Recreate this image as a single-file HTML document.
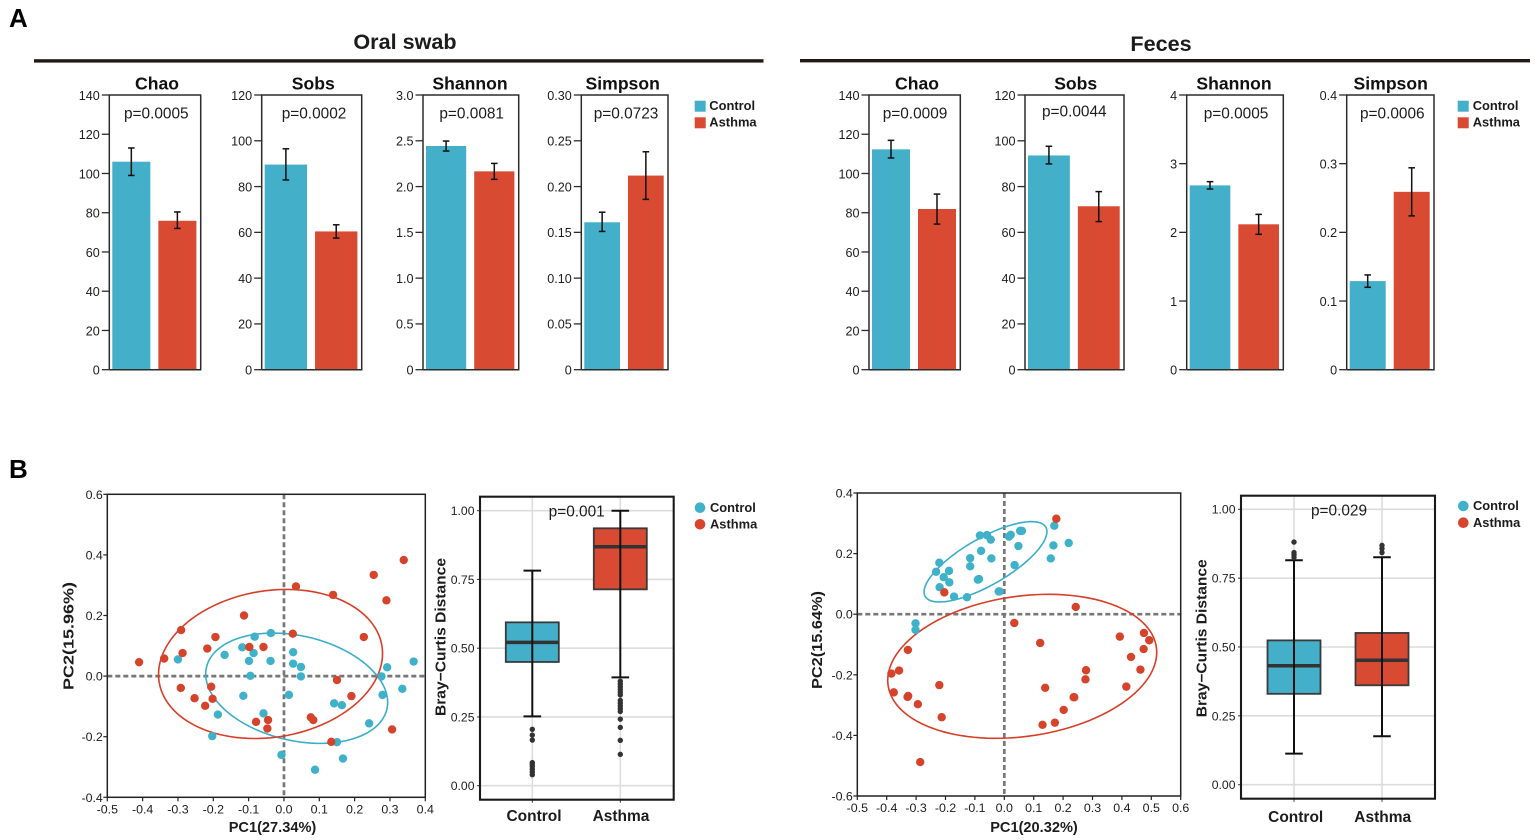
<!DOCTYPE html>
<html lang="en">
<head>
<meta charset="utf-8">
<title>Alpha and beta diversity: oral swab and feces</title>
<style>
html,body{margin:0;padding:0;background:#fff;}
svg{display:block;font-family:"Liberation Sans",Arial,sans-serif;}
text{fill:#1c1c1c;}
.b{font-weight:bold;}
.panel{font-size:26px;font-weight:bold;fill:#000;}
.head{font-size:21.6px;font-weight:bold;text-anchor:middle;}
.ttl{font-size:17.6px;font-weight:bold;text-anchor:middle;fill:#111;}
.pv{font-size:15.4px;text-anchor:middle;}
.leg{font-size:12.9px;font-weight:bold;}
.axt{font-size:14.6px;font-weight:bold;text-anchor:middle;}
.cat{font-size:15.5px;font-weight:bold;text-anchor:middle;}
</style>
</head>
<body>
<svg id="figure" width="1535" height="840" viewBox="0 0 1535 840" xmlns="http://www.w3.org/2000/svg">
  <rect width="1535" height="840" fill="#fff"/>
  <text class="panel" x="9" y="27">A</text>
  <text class="panel" x="9" y="478">B</text>

  <text class="head" x="405" y="49">Oral swab</text>
  <rect x="34" y="59.2" width="729.5" height="3.4" fill="#231815"/>
  <text class="head" x="1161" y="51">Feces</text>
  <rect x="800" y="59" width="730" height="3.4" fill="#231815"/>

  <g>
    <g id="oral-chao"></g>
    <text class="ttl" x="157" y="89.5">Chao</text>
    <text class="pv" x="156.3" y="118.3">p=0.0005</text>
  </g>
  <g>
    <g id="oral-sobs"></g>
    <text class="ttl" x="313.3" y="89.5">Sobs</text>
    <text class="pv" x="314" y="118.3">p=0.0002</text>
  </g>
  <g>
    <g id="oral-shannon"></g>
    <text class="ttl" x="470" y="89.5">Shannon</text>
    <text class="pv" x="471.7" y="118.3">p=0.0081</text>
  </g>
  <g>
    <g id="oral-simpson"></g>
    <text class="ttl" x="622.7" y="89.5">Simpson</text>
    <text class="pv" x="626" y="118.3">p=0.0723</text>
  </g>
  <g>
    <rect x="694.7" y="100.7" width="11" height="11" fill="#43afc9"/>
    <text class="leg" x="709.3" y="110">Control</text>
    <rect x="694.7" y="117.3" width="11" height="11" fill="#d94a32"/>
    <text class="leg" x="709.3" y="126.7">Asthma</text>
  </g>

  <g>
    <g id="feces-chao"></g>
    <text class="ttl" x="917" y="89.5">Chao</text>
    <text class="pv" x="915" y="118.3">p=0.0009</text>
  </g>
  <g>
    <g id="feces-sobs"></g>
    <text class="ttl" x="1075.7" y="89.5">Sobs</text>
    <text class="pv" x="1074.3" y="116.6">p=0.0044</text>
  </g>
  <g>
    <g id="feces-shannon"></g>
    <text class="ttl" x="1234" y="89.5">Shannon</text>
    <text class="pv" x="1236" y="118.3">p=0.0005</text>
  </g>
  <g>
    <g id="feces-simpson"></g>
    <text class="ttl" x="1390.7" y="89.5">Simpson</text>
    <text class="pv" x="1392.3" y="118.3">p=0.0006</text>
  </g>
  <g>
    <rect x="1457.7" y="100.7" width="11" height="11" fill="#43afc9"/>
    <text class="leg" x="1472.7" y="110">Control</text>
    <rect x="1457.7" y="117.3" width="11" height="11" fill="#d94a32"/>
    <text class="leg" x="1472.7" y="126.7">Asthma</text>
  </g>

  <g>
    <g id="oral-pcoa"></g>
    <text class="axt" x="272.5" y="832">PC1(27.34%)</text>
    <text class="axt" transform="translate(73.5,636) rotate(-90)" textLength="108" lengthAdjust="spacingAndGlyphs">PC2(15.96%)</text>
  </g>
  <g>
    <g id="oral-box"></g>
    <text class="pv" x="576.7" y="516.7">p=0.001</text>
    <text class="cat" x="534" y="821">Control</text>
    <text class="cat" x="621" y="821">Asthma</text>
    <text class="axt" transform="translate(445.5,637) rotate(-90)" textLength="158" lengthAdjust="spacingAndGlyphs">Bray−Curtis Distance</text>
  </g>
  <g>
    <circle cx="700" cy="507.7" r="5.3" fill="#3fb1c9"/>
    <text class="leg" x="710" y="511.9">Control</text>
    <circle cx="700" cy="524.3" r="5.3" fill="#d9442c"/>
    <text class="leg" x="710" y="528.5">Asthma</text>
  </g>

  <g>
    <g id="feces-pcoa"></g>
    <text class="axt" x="1034" y="832">PC1(20.32%)</text>
    <text class="axt" transform="translate(822,640) rotate(-90)" textLength="98" lengthAdjust="spacingAndGlyphs">PC2(15.64%)</text>
  </g>
  <g>
    <g id="feces-box"></g>
    <text class="pv" x="1339" y="515.3">p=0.029</text>
    <text class="cat" x="1295.7" y="822">Control</text>
    <text class="cat" x="1382.7" y="822">Asthma</text>
    <text class="axt" transform="translate(1206.5,638.3) rotate(-90)" textLength="158" lengthAdjust="spacingAndGlyphs">Bray−Curtis Distance</text>
  </g>
  <g>
    <circle cx="1463.3" cy="506" r="5.3" fill="#3fb1c9"/>
    <text class="leg" x="1473" y="510.2">Control</text>
    <circle cx="1463.3" cy="522.7" r="5.3" fill="#d9442c"/>
    <text class="leg" x="1473" y="526.9">Asthma</text>
  </g>
</svg>

<script>
// ---------- bar chart data: [Control, Asthma] ----------
const groups = ['control', 'asthma'];

const oralChaoTicks = ['0','20','40','60','80','100','120','140'];
const oralChaoMean = [106, 75.9];
const oralChaoHigh = [113, 80.4];
const oralChaoLow = [99, 72];

const oralSobsTicks = ['0','20','40','60','80','100','120'];
const oralSobsMean = [89.6, 60.4];
const oralSobsHigh = [96.5, 63.3];
const oralSobsLow = [82.9, 57.5];

const oralShannonTicks = ['0','0.5','1.0','1.5','2.0','2.5','3.0'];
const oralShannonMean = [2.443, 2.166];
const oralShannonHigh = [2.497, 2.253];
const oralShannonLow = [2.388, 2.079];

const oralSimpsonTicks = ['0','0.05','0.10','0.15','0.20','0.25','0.30'];
const oralSimpsonMean = [0.161, 0.212];
const oralSimpsonHigh = [0.172, 0.238];
const oralSimpsonLow = [0.151, 0.186];

const fecesChaoTicks = ['0','20','40','60','80','100','120','140'];
const fecesChaoMean = [112.3, 81.9];
const fecesChaoHigh = [116.9, 89.5];
const fecesChaoLow = [107.9, 74.2];

const fecesSobsTicks = ['0','20','40','60','80','100','120'];
const fecesSobsMean = [93.6, 71.4];
const fecesSobsHigh = [97.6, 77.8];
const fecesSobsLow = [89.9, 64.7];

const fecesShannonTicks = ['0','1','2','3','4'];
const fecesShannonMean = [2.684, 2.117];
const fecesShannonHigh = [2.738, 2.262];
const fecesShannonLow = [2.631, 1.971];

const fecesSimpsonTicks = ['0','0.1','0.2','0.3','0.4'];
const fecesSimpsonMean = [0.129, 0.259];
const fecesSimpsonHigh = [0.138, 0.294];
const fecesSimpsonLow = [0.120, 0.224];

// ---------- PCoA data ----------
const oralPcoaXTicks = ['-0.5','-0.4','-0.3','-0.2','-0.1','0.0','0.1','0.2','0.3','0.4'];
const oralPcoaYTicks = ['-0.4','-0.2','0.0','0.2','0.4','0.6'];
const oralControlX = [-0.30,-0.168,-0.118,-0.083,-0.037,-0.086,-0.099,-0.038,-0.095,-0.115,-0.187,-0.203,-0.058,-0.007,0.088,0.167,0.15,0.241,0.142,0.164,0.279,0.335,0.276,0.292,0.367,0.026,0.026,0.048,0.048,0.014];
const oralControlY = [0.055,0.07,0.095,0.13,0.142,0.076,0.05,0.05,0.001,-0.065,-0.127,-0.198,-0.123,-0.26,-0.309,-0.272,-0.218,-0.156,-0.09,-0.096,-0.062,-0.042,-0.001,0.029,0.048,0.079,0.041,0.03,-0.001,-0.062];
const oralAsthmaX = [-0.41,-0.339,-0.287,-0.291,-0.194,-0.217,-0.113,-0.098,-0.058,0.025,0.034,0.139,0.254,0.339,0.29,0.226,0.15,0.191,-0.292,-0.253,-0.206,-0.202,-0.223,-0.079,-0.045,-0.047,0.076,0.083,0.134,0.306];
const oralAsthmaY = [0.046,0.058,0.076,0.152,0.129,0.091,0.2,0.096,0.096,0.14,0.296,0.268,0.334,0.383,0.25,0.129,-0.013,-0.066,-0.039,-0.073,-0.035,-0.075,-0.098,-0.151,-0.145,-0.173,-0.136,-0.145,-0.217,-0.176];
// ellipse: centre x, centre y, x radius, y radius, phase between x and y
const oralControlEllipse = [0.036, -0.04, 0.2575, 0.182, 1.83];
const oralAsthmaEllipse = [-0.038, 0.04, 0.317, 0.246, 1.43];

const fecesPcoaXTicks = ['-0.5','-0.4','-0.3','-0.2','-0.1','0.0','0.1','0.2','0.3','0.4','0.5','0.6'];
const fecesPcoaYTicks = ['-0.6','-0.4','-0.2','0.0','0.2','0.4'];
const fecesControlX = [-0.302,-0.302,-0.232,-0.221,-0.206,-0.188,-0.187,-0.22,-0.171,-0.127,-0.116,-0.116,-0.079,-0.09,-0.086,-0.083,-0.059,-0.046,-0.044,-0.019,-0.016,0.016,0.022,0.035,0.048,0.054,0.06,0.158,0.167,0.17,0.219];
const fecesControlY = [-0.03,-0.052,0.14,0.17,0.122,0.143,0.105,0.089,0.058,0.056,0.185,0.158,0.209,0.114,0.116,0.26,0.261,0.246,0.184,0.075,0.075,0.256,0.262,0.162,0.225,0.275,0.275,0.184,0.227,0.292,0.235];
const fecesAsthmaX = [0.177,-0.204,0.243,0.034,0.122,0.393,0.475,0.493,0.474,0.431,0.463,0.415,0.278,0.276,0.139,0.238,0.236,0.202,0.172,0.13,-0.328,-0.358,-0.384,-0.376,-0.329,-0.327,-0.294,-0.221,-0.213,-0.286];
const fecesAsthmaY = [0.315,0.072,0.024,-0.029,-0.095,-0.074,-0.062,-0.086,-0.115,-0.141,-0.183,-0.239,-0.185,-0.215,-0.243,-0.274,-0.274,-0.316,-0.358,-0.365,-0.118,-0.186,-0.196,-0.258,-0.273,-0.27,-0.297,-0.234,-0.34,-0.488];
const fecesControlEllipse = [-0.064, 0.173, 0.209, 0.1326, 0.723];
const fecesAsthmaEllipse = [0.061, -0.172, 0.4575, 0.2376, 1.375];

// ---------- box plot data: [Control, Asthma] ----------
const boxTicks = ['0.00','0.25','0.50','0.75','1.00'];
const oralBoxLow = [0.252, 0.394];
const oralBoxQ1 = [0.45, 0.714];
const oralBoxMedian = [0.521, 0.869];
const oralBoxQ3 = [0.594, 0.936];
const oralBoxHigh = [0.782, 1.0];
const oralOutliersControl = [0.205,0.184,0.166,0.084,0.077,0.07,0.06,0.05,0.04];
const oralOutliersAsthma = [0.38,0.37,0.36,0.35,0.34,0.33,0.31,0.30,0.29,0.28,0.27,0.242,0.212,0.165,0.114];

const fecesBoxLow = [0.113, 0.176];
const fecesBoxQ1 = [0.33, 0.361];
const fecesBoxMedian = [0.432, 0.452];
const fecesBoxQ3 = [0.524, 0.551];
const fecesBoxHigh = [0.815, 0.826];
const fecesOutliersControl = [0.881,0.843,0.835,0.825];
const fecesOutliersAsthma = [0.869,0.857,0.843];

// ---------- colours ----------
const barColors = ['#43afc9', '#d94a32'];
const dotColors = ['#3fb1c9', '#d6432b'];
const NS = 'http://www.w3.org/2000/svg';

function mk(tag, attrs, parent) {
  const n = document.createElementNS(NS, tag);
  for (const k in attrs) n.setAttribute(k, attrs[k]);
  parent.appendChild(n);
  return n;
}
function linear(d0, d1, r0, r1) {
  return v => r0 + (v - d0) * (r1 - r0) / (d1 - d0);
}

function drawBars(id, L, R, tickLabels, mean, high, low) {
  const root = document.getElementById(id);
  const T = 95, B = 369.7;
  const y = linear(0, Number(tickLabels[tickLabels.length - 1]), B, T);
  const padL = 3, padR = 4.3, gap = 8;
  const w = (R - L - padL - padR - gap) / 2;
  mean.forEach((m, i) => {
    const xL = L + padL + i * (w + gap);
    const bar = mk('rect', {x: xL, y: y(m), width: w, height: B - y(m), fill: barColors[i]}, root);
    
    
    const cx = xL + w / 2;
    const stem = mk('line', {x1: cx, x2: cx, y1: y(high[i]), y2: y(low[i]), stroke: '#111', 'stroke-width': 1.5}, root);
    
    
    [high[i], low[i]].forEach(v => {
      const cap = mk('line', {x1: cx - 3.3, x2: cx + 3.3, y1: y(v), y2: y(v), stroke: '#111', 'stroke-width': 1.5}, root);
      
      
    });
  });
  const frame = mk('path', {d: `M${L} ${B}V${T}H${R}V${B}H${L}`, fill: 'none', stroke: '#2b2b2b', 'stroke-width': 1.5}, root);
  
  
  tickLabels.forEach(label => {
    const v = Number(label);
    const tick = mk('line', {x1: L - 7.5, x2: L, y1: y(v), y2: y(v), stroke: '#2b2b2b', 'stroke-width': 1.3}, root);
    
    
    const t = mk('text', {x: L - 9.5, y: y(v) + 4.8, 'text-anchor': 'end', 'font-size': 12.6}, root);
    t.textContent = label;
    
    
  });
}

function ellipsePath(e, x, y) {
  const pts = [];
  for (let i = 0; i < 120; i++) {
    const t = i / 120 * 2 * Math.PI;
    pts.push(x(e[0] + e[2] * Math.cos(t)).toFixed(2) + ' ' + y(e[1] + e[3] * Math.cos(t - e[4])).toFixed(2));
  }
  return 'M' + pts.join('L') + 'Z';
}

function drawPcoa(id, box, xLabels, yLabels, ctlX, ctlY, astX, astY, ctlE, astE) {
  const root = document.getElementById(id);
  const x = linear(Number(xLabels[0]), Number(xLabels[xLabels.length - 1]), box.L, box.R);
  const y = linear(Number(yLabels[0]), Number(yLabels[yLabels.length - 1]), box.B, box.T);
  const hz = mk('line', {x1: box.L, x2: box.R, y1: y(0), y2: y(0), stroke: '#777', 'stroke-width': 2.7, 'stroke-dasharray': '5 3'}, root);
  
  
  const vt = mk('line', {x1: x(0), x2: x(0), y1: box.T, y2: box.B, stroke: '#777', 'stroke-width': 2.7, 'stroke-dasharray': '5 3'}, root);
  
  
  const e1 = mk('path', {d: ellipsePath(ctlE, x, y), fill: 'none', stroke: '#3aaec8', 'stroke-width': 1.6}, root);
  
  
  const e2 = mk('path', {d: ellipsePath(astE, x, y), fill: 'none', stroke: '#d63e28', 'stroke-width': 1.6}, root);
  
  
  ctlX.forEach((v, i) => {
    const c = mk('circle', {cx: x(v), cy: y(ctlY[i]), r: 4.2, fill: dotColors[0]}, root);
    
    
  });
  astX.forEach((v, i) => {
    const c = mk('circle', {cx: x(v), cy: y(astY[i]), r: 4.2, fill: dotColors[1]}, root);
    
    
  });
  const frame = mk('rect', {x: box.L, y: box.T, width: box.R - box.L, height: box.B - box.T, fill: 'none', stroke: '#222', 'stroke-width': 1.5}, root);
  
  
  xLabels.forEach(label => {
    const px = x(Number(label));
    const tick = mk('line', {x1: px, x2: px, y1: box.B, y2: box.B + 4, stroke: '#222', 'stroke-width': 1.2}, root);
    
    
    const t = mk('text', {x: px, y: box.B + 16, 'text-anchor': 'middle', 'font-size': 12.4}, root);
    t.textContent = label;
    
    
  });
  yLabels.forEach(label => {
    const py = y(Number(label));
    const tick = mk('line', {x1: box.L - 4, x2: box.L, y1: py, y2: py, stroke: '#222', 'stroke-width': 1.2}, root);
    
    
    const t = mk('text', {x: box.L - 4.5, y: py + 4.5, 'text-anchor': 'end', 'font-size': 12.4}, root);
    t.textContent = label;
    
    
  });
}

function drawBox(id, g, labels, low, q1, med, q3, high, outliers) {
  const root = document.getElementById(id);
  const y = linear(0, 1, g.y0, g.y1);
  labels.forEach(label => {
    const py = y(Number(label));
    const grid = mk('line', {x1: g.L, x2: g.R, y1: py, y2: py, stroke: '#dcdcdc', 'stroke-width': 1.6}, root);
    
    
    const tick = mk('line', {x1: g.L - 3, x2: g.L, y1: py, y2: py, stroke: '#333', 'stroke-width': 1}, root);
    
    
    const t = mk('text', {x: g.L - 5.5, y: py + 4.4, 'text-anchor': 'end', 'font-size': 12.2}, root);
    t.textContent = label;
    
    
  });
  g.xs.forEach((cx, i) => {
    const grid = mk('line', {x1: cx, x2: cx, y1: g.T, y2: g.B, stroke: '#dcdcdc', 'stroke-width': 1.6}, root);
    
    
    const tick = mk('line', {x1: cx, x2: cx, y1: g.B, y2: g.B + 3, stroke: '#333', 'stroke-width': 1}, root);
    
    
  });
  g.xs.forEach((cx, i) => {
    const bw = 53;
    const rect = mk('rect', {x: cx - bw / 2, y: y(q3[i]), width: bw, height: y(q1[i]) - y(q3[i]), fill: barColors[i], stroke: '#3a3a3a', 'stroke-width': 1.8}, root);
    
    
    const m = mk('line', {x1: cx - bw / 2, x2: cx + bw / 2, y1: y(med[i]), y2: y(med[i]), stroke: '#333', 'stroke-width': 3.5}, root);
    
    
    const w = mk('line', {x1: cx, x2: cx, y1: y(high[i]), y2: y(low[i]), stroke: '#111', 'stroke-width': 2}, root);
    
    
    [high[i], low[i]].forEach(v => {
      const cap = mk('line', {x1: cx - 8.8, x2: cx + 8.8, y1: y(v), y2: y(v), stroke: '#111', 'stroke-width': 2}, root);
      
      
    });
    outliers[i].forEach(v => {
      const o = mk('circle', {cx: cx, cy: y(v), r: 2.7, fill: '#333'}, root);
      
      
    });
  });
  const frame = mk('rect', {x: g.L, y: g.T, width: g.R - g.L, height: g.B - g.T, fill: 'none', stroke: '#1a1a1a', 'stroke-width': 2.1}, root);
  
  
}

drawBars('oral-chao', 109.3, 200.7, oralChaoTicks, oralChaoMean, oralChaoHigh, oralChaoLow);
drawBars('oral-sobs', 261.7, 361.7, oralSobsTicks, oralSobsMean, oralSobsHigh, oralSobsLow);
drawBars('oral-shannon', 423, 518.7, oralShannonTicks, oralShannonMean, oralShannonHigh, oralShannonLow);
drawBars('oral-simpson', 581.3, 668, oralSimpsonTicks, oralSimpsonMean, oralSimpsonHigh, oralSimpsonLow);
drawBars('feces-chao', 869, 960.3, fecesChaoTicks, fecesChaoMean, fecesChaoHigh, fecesChaoLow);
drawBars('feces-sobs', 1025, 1124, fecesSobsTicks, fecesSobsMean, fecesSobsHigh, fecesSobsLow);
drawBars('feces-shannon', 1186.7, 1283.3, fecesShannonTicks, fecesShannonMean, fecesShannonHigh, fecesShannonLow);
drawBars('feces-simpson', 1346.7, 1434, fecesSimpsonTicks, fecesSimpsonMean, fecesSimpsonHigh, fecesSimpsonLow);

drawPcoa('oral-pcoa', {L: 107.3, R: 425.3, T: 494.3, B: 797.3}, oralPcoaXTicks, oralPcoaYTicks,
  oralControlX, oralControlY, oralAsthmaX, oralAsthmaY, oralControlEllipse, oralAsthmaEllipse);
drawPcoa('feces-pcoa', {L: 857.3, R: 1180.7, T: 493, B: 796}, fecesPcoaXTicks, fecesPcoaYTicks,
  fecesControlX, fecesControlY, fecesAsthmaX, fecesAsthmaY, fecesControlEllipse, fecesAsthmaEllipse);

drawBox('oral-box', {L: 480, R: 673.7, T: 496.7, B: 799.7, y0: 785.7, y1: 510.7, xs: [532.3, 620.3]},
  boxTicks, oralBoxLow, oralBoxQ1, oralBoxMedian, oralBoxQ3, oralBoxHigh, [oralOutliersControl, oralOutliersAsthma]);
drawBox('feces-box', {L: 1241, R: 1435, T: 495.7, B: 798.7, y0: 784.7, y1: 509.3, xs: [1294, 1382]},
  boxTicks, fecesBoxLow, fecesBoxQ1, fecesBoxMedian, fecesBoxQ3, fecesBoxHigh, [fecesOutliersControl, fecesOutliersAsthma]);
</script>
</body>
</html>
